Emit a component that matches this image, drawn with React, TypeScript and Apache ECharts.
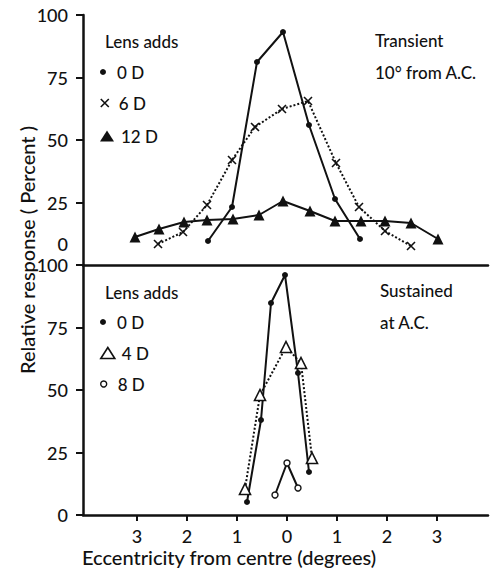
import React, { useEffect, useRef } from 'react';
import * as echarts from 'echarts';

const FONT = 'Lato, "DejaVu Sans", sans-serif';
const INK = '#111';

// Axis ticks
const yTickInterval = 25;
const xTickValues = [-3, -2, -1, 0, 1, 2, 3];

// Top panel: Transient, 10° from A.C.
const tr0DX = [-1.58, -1.1, -0.6, -0.08, 0.44, 0.96, 1.46];
const tr0DY = [9.6, 23.2, 81.2, 93.2, 56, 26.4, 10.4];
const tr6DX = [-2.58, -2.08, -1.6, -1.1, -0.64, -0.1, 0.42, 0.98, 1.44, 1.96, 2.48];
const tr6DY = [8.4, 13.2, 24, 42, 55.2, 62.4, 65.6, 40.8, 23.2, 13.6, 7.6];
const tr12DX = [-3.04, -2.56, -2.06, -1.6, -1.08, -0.56, -0.08, 0.46, 0.96, 1.48, 1.96, 2.48, 3.02];
const tr12DY = [11.2, 14.4, 17.2, 18, 18.4, 20, 25.6, 21.6, 17.6, 17.6, 17.6, 16.8, 10.4];

// Bottom panel: Sustained at A.C.
const su0DX = [-0.8, -0.52, -0.32, -0.04, 0.22, 0.44];
const su0DY = [5.2, 38, 84.8, 96, 56.8, 17.2];
const su4DX = [-0.84, -0.54, -0.02, 0.28, 0.5];
const su4DY = [10.4, 48, 67.2, 60.8, 22.8];
const su8DX = [-0.24, 0, 0.22];
const su8DY = [8, 20.8, 10.8];

const zip = (xs: number[], ys: number[]) => xs.map((x, i) => [x, ys[i]]);

const X_PATH = 'path://M0,0L10,10M0,10L10,0';

export default function App() {
  const ref = useRef<HTMLDivElement>(null);
  useEffect(() => {
    if (!ref.current) return;
    const chart = echarts.init(ref.current, undefined, { renderer: 'svg' });

    const xMin = -4.08;
    const xMax = 4.02;
    const axisLine = { show: true, onZero: false, lineStyle: { color: INK, width: 2.5 } };
    const tickLabel = { color: INK, fontFamily: FONT, fontSize: 18, fontWeight: 500 };

    const legendItems = [
      { name: '0 D', icon: 'circle', size: 6, top: 62, style: { color: INK } },
      { name: '6 D', icon: X_PATH, size: 8, top: 93, style: { color: INK, borderColor: INK, borderWidth: 1.6 } },
      { name: '12 D', icon: 'triangle', size: 11, top: 126, style: { color: INK } },
      { name: '0 D', icon: 'circle', size: 6, top: 312, style: { color: INK } },
      { name: '4 D', icon: 'triangle', size: 11, top: 343, style: { color: '#fff', borderColor: INK, borderWidth: 1.6 } },
      { name: '8 D', icon: 'circle', size: 6, top: 374, style: { color: '#fff', borderColor: INK, borderWidth: 1.4 } },
    ];

    const txt = (text: string, x: number, y: number, size = 17, extra: any = {}) => ({
      type: 'text',
      x,
      y,
      ...extra,
      style: {
        text,
        fill: INK,
        font: `500 ${size}px ${FONT}`,
        verticalAlign: 'middle',
        align: extra.align || 'left',
      },
    });

    chart.setOption({
      animation: false,
      grid: [
        { left: 83, width: 405, top: 15, height: 250 },
        { left: 83, width: 405, top: 265, height: 250 },
      ],
      xAxis: [
        {
          gridIndex: 0,
          type: 'value',
          min: xMin,
          max: xMax,
          axisLine,
          axisTick: { show: false },
          axisLabel: { show: false },
          splitLine: { show: false },
        },
        {
          gridIndex: 1,
          type: 'value',
          min: xMin,
          max: xMax,
          axisLine,
          axisTick: { show: true, customValues: xTickValues, length: 6, lineStyle: { color: INK, width: 2 } },
          axisLabel: {
            ...tickLabel,
            customValues: xTickValues,
            margin: 12,
            formatter: (v: number) => String(Math.abs(v)),
          },
          splitLine: { show: false },
        },
      ],
      yAxis: [
        {
          gridIndex: 0,
          type: 'value',
          min: 0,
          max: 100,
          interval: yTickInterval,
          axisLine,
          axisTick: { show: true, length: 7, lineStyle: { color: INK, width: 2 } },
          axisLabel: {
            ...tickLabel,
            margin: 15,
            formatter: (v: number) => (v === 0 ? '{z|0}' : String(v)),
            rich: { z: { ...tickLabel, padding: [0, 0, 42, 0] } },
          },
          splitLine: { show: false },
        },
        {
          gridIndex: 1,
          type: 'value',
          min: 0,
          max: 100,
          interval: yTickInterval,
          axisLine,
          axisTick: { show: true, length: 7, lineStyle: { color: INK, width: 2 } },
          axisLabel: { ...tickLabel, margin: 15 },
          splitLine: { show: false },
        },
      ],
      legend: legendItems.map((it) => ({
        left: 100,
        top: it.top,
        padding: 0,
        orient: 'vertical',
        selectedMode: false,
        itemWidth: 14,
        itemHeight: it.size,
        symbolKeepAspect: true,
        textStyle: { color: INK, fontFamily: FONT, fontSize: 17, fontWeight: 500, lineHeight: 20, padding: [0, 0, 0, 2] },
        data: [{ name: it.name, icon: it.icon, itemStyle: it.style }],
      })),
      graphic: [
        txt('Lens adds', 105, 41, 17),
        txt('Transient', 375, 40, 17),
        txt('10° from A.C.', 375, 72, 17),
        txt('Lens adds', 105, 292, 17),
        txt('Sustained', 380, 290, 17),
        txt('at A.C.', 380, 322, 17),
        txt('Relative response ( Percent )', 27, 250, 20, { rotation: Math.PI / 2, align: 'center' }),
        txt('Eccentricity from centre (degrees)', 82, 557, 20),
      ],
      series: [
        {
          name: '0 D',
          type: 'line',
          xAxisIndex: 0,
          yAxisIndex: 0,
          data: zip(tr0DX, tr0DY),
          symbol: 'circle',
          symbolSize: 6,
          itemStyle: { color: INK },
          lineStyle: { color: INK, width: 2 },
        },
        {
          name: '6 D',
          type: 'line',
          xAxisIndex: 0,
          yAxisIndex: 0,
          data: zip(tr6DX, tr6DY),
          symbol: X_PATH,
          symbolSize: 8,
          itemStyle: { color: INK, borderColor: INK, borderWidth: 1.6 },
          lineStyle: { color: INK, width: 2, type: 'dotted' },
        },
        {
          name: '12 D',
          type: 'line',
          xAxisIndex: 0,
          yAxisIndex: 0,
          data: zip(tr12DX, tr12DY),
          symbol: 'triangle',
          symbolSize: 11,
          itemStyle: { color: INK },
          lineStyle: { color: INK, width: 2 },
        },
        {
          name: '0 D',
          type: 'line',
          xAxisIndex: 1,
          yAxisIndex: 1,
          data: zip(su0DX, su0DY),
          symbol: 'circle',
          symbolSize: 6,
          itemStyle: { color: INK },
          lineStyle: { color: INK, width: 2 },
        },
        {
          name: '4 D',
          type: 'line',
          xAxisIndex: 1,
          yAxisIndex: 1,
          data: zip(su4DX, su4DY),
          symbol: 'triangle',
          symbolSize: 11,
          itemStyle: { color: '#fff', borderColor: INK, borderWidth: 1.6 },
          lineStyle: { color: INK, width: 2, type: 'dotted' },
        },
        {
          name: '8 D',
          type: 'line',
          xAxisIndex: 1,
          yAxisIndex: 1,
          data: zip(su8DX, su8DY),
          symbol: 'circle',
          symbolSize: 6,
          itemStyle: { color: '#fff', borderColor: INK, borderWidth: 1.4 },
          lineStyle: { color: INK, width: 2 },
        },
      ],
    });
    return () => chart.dispose();
  }, []);

  return (
    <div
      ref={ref}
      style={{ position: 'fixed', left: 0, top: 0, width: 493, height: 571, background: '#fff' }}
    />
  );
}
